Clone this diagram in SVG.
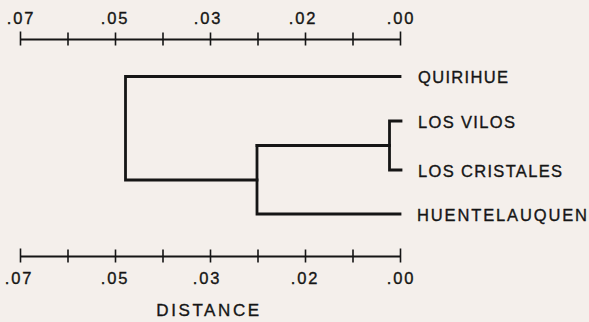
<svg xmlns="http://www.w3.org/2000/svg" width="589" height="322" viewBox="0 0 589 322">
  <style>
    .bg { fill: #f4efeb; }
    .axis { stroke: #151515; stroke-width: 2; fill: none; }
    .tick { stroke: #151515; stroke-width: 1.6; fill: none; }
    .branch { stroke: #151515; stroke-width: 2.8; fill: none; stroke-linecap: square; }
    text { font-family: "Liberation Sans", Arial, sans-serif; fill: #151515; stroke: #151515; stroke-width: 0.35px; }
    .num { font-size: 16.5px; letter-spacing: 1.8px; text-anchor: middle; }
    .taxon { font-size: 16.5px; }
    .title { font-size: 17px; letter-spacing: 2.6px; text-anchor: middle; }
  </style>
  <defs>
    <!-- distance scale: line with nine ticks from .07 to .00 -->
    <g id="scale">
      <line class="axis" x1="20.5" y1="0" x2="400.5" y2="0"/>
      <line class="tick" x1="20.5" y1="-8" x2="20.5" y2="6"/>
      <line class="tick" x1="68" y1="-7" x2="68" y2="6"/>
      <line class="tick" x1="115.5" y1="-7" x2="115.5" y2="6"/>
      <line class="tick" x1="163" y1="-7" x2="163" y2="6"/>
      <line class="tick" x1="210.5" y1="-7" x2="210.5" y2="6"/>
      <line class="tick" x1="258" y1="-7" x2="258" y2="6"/>
      <line class="tick" x1="305.5" y1="-7" x2="305.5" y2="6"/>
      <line class="tick" x1="353" y1="-7" x2="353" y2="6"/>
      <line class="tick" x1="400.5" y1="-8" x2="400.5" y2="6"/>
    </g>
  </defs>
  <rect class="bg" x="0" y="0" width="589" height="322"/>

  <!-- top scale -->
  <g id="scale-top">
    <use href="#scale" y="39.5"/>
    <text class="num" x="21" y="23.5">.07</text>
    <text class="num" x="115" y="23.5">.05</text>
    <text class="num" x="208" y="23.5">.03</text>
    <text class="num" x="303" y="23.5">.02</text>
    <text class="num" x="401" y="23.5">.00</text>
  </g>

  <!-- dendrogram branches -->
  <g id="connectors">
    <path class="branch" d="M400 76.5 H125.5 V180 H257"/>
    <path class="branch" d="M257 145.5 V214 H400"/>
    <path class="branch" d="M257 145.5 H389.5"/>
    <path class="branch" d="M401 121 H389.5 V170 H401"/>
  </g>

  <g id="quirihue"><text class="taxon" x="418" y="83" textLength="90" lengthAdjust="spacing">QUIRIHUE</text></g>
  <g id="los-vilos"><text class="taxon" x="418" y="127.5" textLength="97" lengthAdjust="spacing">LOS VILOS</text></g>
  <g id="los-cristales"><text class="taxon" x="418" y="177" textLength="144" lengthAdjust="spacing">LOS CRISTALES</text></g>
  <g id="huentelauquen"><text class="taxon" x="417" y="221" textLength="170" lengthAdjust="spacing">HUENTELAUQUEN</text></g>

  <!-- bottom scale -->
  <g id="scale-bottom">
    <use href="#scale" y="256.5"/>
    <text class="num" x="19" y="284">.07</text>
    <text class="num" x="115" y="284">.05</text>
    <text class="num" x="207" y="284">.03</text>
    <text class="num" x="305" y="284">.02</text>
    <text class="num" x="401" y="284">.00</text>
    <text class="title" x="209" y="316">DISTANCE</text>
  </g>
</svg>
